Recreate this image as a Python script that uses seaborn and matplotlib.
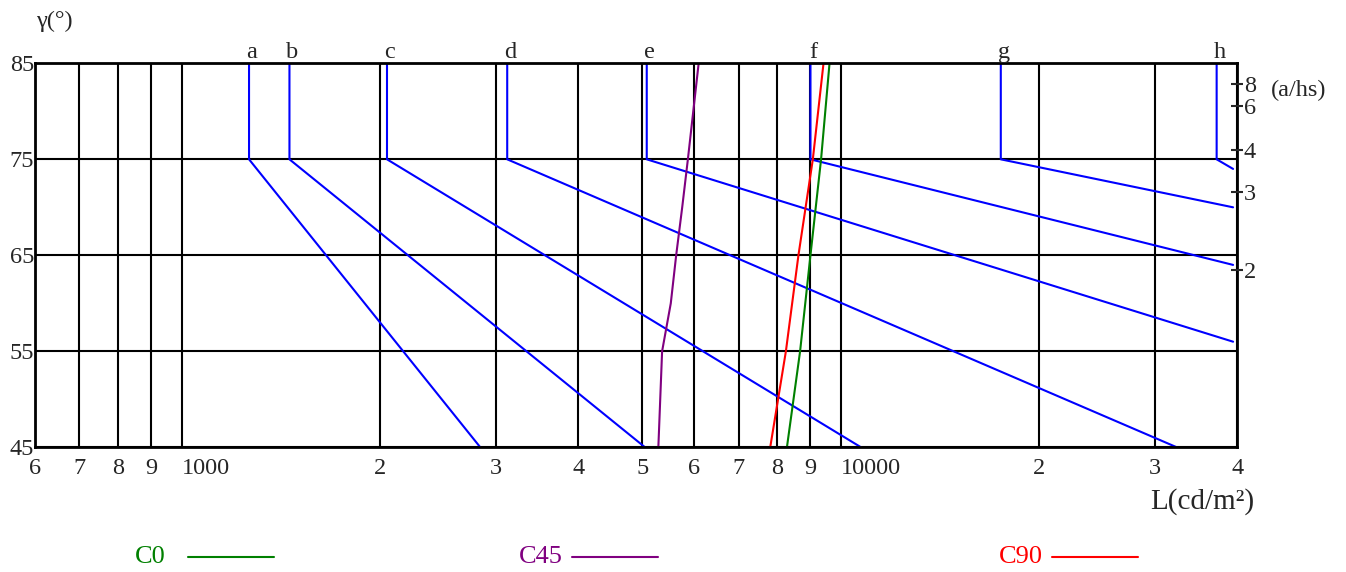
import numpy as np
import matplotlib
matplotlib.use('Agg')
import matplotlib.pyplot as plt
from matplotlib.lines import Line2D
from matplotlib.ticker import NullLocator
import seaborn as sns

# glare limit lines a..h: vertical from 85 to 75 deg at knee_L, then straight to (end_L, end_gamma)
curve_names = ['a', 'b', 'c', 'd', 'e', 'f', 'g', 'h']
knee_L = [1266, 1458, 2050, 3120, 5080, 9000, 17500, 37200]
end_L = [2840, 5050, 10740, 32370, 39400, 39400, 39400, 39400]
end_gamma = [45, 45, 45, 45, 56, 64, 70, 74]

# luminance curves of the luminaire for the three C planes
c_gamma = [45, 55, 65, 75, 85]
c0_L = [8290, 8680, 9000, 9340, 9620]
c90_L = [7820, 8260, 8630, 9075, 9420]
c45_gamma = [45, 55, 60, 65, 70, 75, 85]
c45_L = [5290, 5360, 5525, 5630, 5750, 5865, 6090]

x_ticks = [600, 700, 800, 900, 1000, 2000, 3000, 4000, 5000, 6000, 7000, 8000, 9000,
           10000, 20000, 30000, 40000]
x_labels = ['6', '7', '8', '9', '1000', '2', '3', '4', '5', '6', '7', '8', '9',
            '10000', '2', '3', '4']
y_ticks = [45, 55, 65, 75, 85]
ratio_vals = [8, 6, 4, 3, 2]

sns.set_style('white')
plt.rcParams['font.family'] = ['Liberation Serif', 'DejaVu Serif']
fs = 17.5

fig = plt.figure(figsize=(13.46, 5.72), dpi=100)
ax = fig.add_axes([0.02623, 0.218, 0.8931, 0.6713])

for name, k, e, g in zip(curve_names, knee_L, end_L, end_gamma):
    sns.lineplot(x=[k, k, e], y=[85, 75, g], sort=False, estimator=None,
                 color='#0000ff', lw=1.5, ax=ax)
    ax.annotate(name, (k, 85), xytext=(2, 4), textcoords='offset points',
                ha='center', va='baseline', fontsize=fs)

sns.lineplot(x=c0_L, y=c_gamma, sort=False, estimator=None, color='green', lw=1.5, ax=ax)
sns.lineplot(x=c45_L, y=c45_gamma, sort=False, estimator=None, color='purple', lw=1.5, ax=ax)
sns.lineplot(x=c90_L, y=c_gamma, sort=False, estimator=None, color='red', lw=1.5, ax=ax)

ax.set_xscale('log')
ax.set_xlim(600, 40000)
ax.set_ylim(45, 85)
ax.set_xticks(x_ticks)
ax.set_xticklabels(x_labels)
ax.xaxis.set_minor_locator(NullLocator())
ax.set_yticks(y_ticks)
ax.set_xlabel('')
ax.set_ylabel('')
ax.grid(True, color='black', lw=1.5)
ax.set_axisbelow(True)
ax.tick_params(axis='x', length=0, pad=7.5, labelsize=fs)
ax.tick_params(axis='y', length=0, pad=1, labelsize=fs)
for t in ax.get_xticklabels():
    if t.get_text() in ('1000', '10000'):
        t.set_horizontalalignment('left')
for s in ax.spines.values():
    s.set_color('black')
    s.set_linewidth(2)

ax2 = ax.twinx()
ax2.set_ylim(45, 85)
ax2.set_yticks(np.degrees(np.arctan(ratio_vals)))
ax2.set_yticklabels([str(v) for v in ratio_vals])
ax2.tick_params(axis='y', direction='inout', length=9, width=1.5, pad=0, labelsize=fs)
for s in ax2.spines.values():
    s.set_visible(False)

fig.text(54 / 1346, 1 - 21 / 572, 'γ(°)', ha='center', va='center', fontsize=fs)
fig.text(1271 / 1346, 1 - 90 / 572, '(a/hs)', ha='left', va='center', fontsize=fs)
fig.text(1202 / 1346, 1 - 502 / 572, 'L(cd/m²)', ha='center', va='center', fontsize=21)

legend_items = [('C0', 'green', 135, 188, 274),
                ('C45', 'purple', 519, 572, 658),
                ('C90', 'red', 999, 1052, 1138)]
ly = 1 - 557 / 572
for label, col, tx, x0, x1 in legend_items:
    fig.text(tx / 1346, ly, label, color=col, ha='left', va='center', fontsize=19)
    fig.add_artist(Line2D([x0 / 1346, x1 / 1346], [ly, ly], color=col, lw=1.5,
                          transform=fig.transFigure))

fig.savefig('out.png', dpi=100)
